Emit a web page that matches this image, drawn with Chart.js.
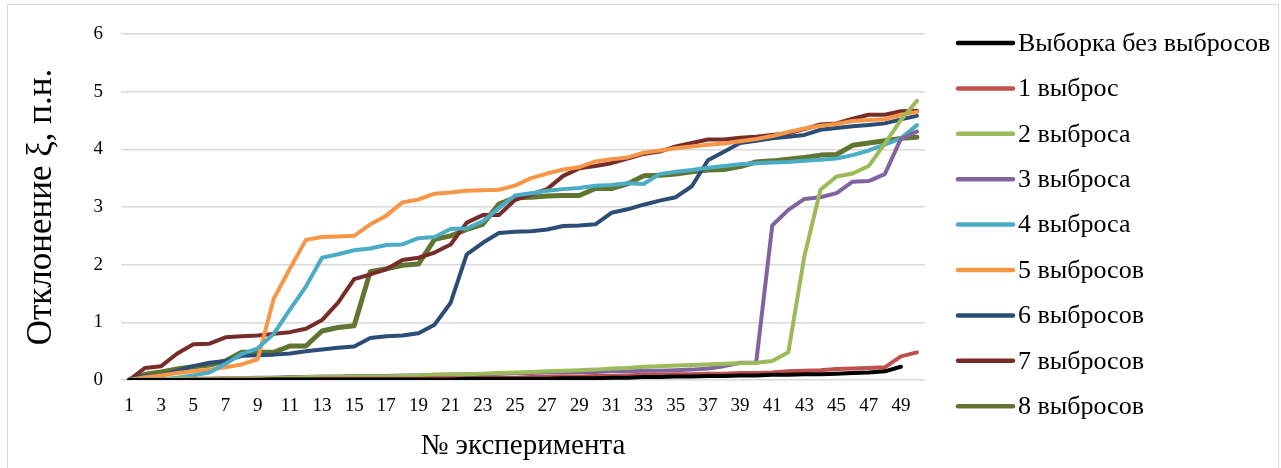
<!DOCTYPE html>
<html lang="ru">
<head>
<meta charset="utf-8">
<title>Отклонение ξ по экспериментам</title>
<script src="https://cdn.jsdelivr.net/npm/chart.js@4.4.1/dist/chart.umd.min.js"></script>
<style>
  html, body { margin: 0; padding: 0; background: #ffffff; }
  #wrap { position: relative; width: 1281px; height: 468px; }
  canvas { display: block; }
</style>
</head>
<body>
<div id="wrap"><canvas id="chart" width="1281" height="468"></canvas></div>
<script>
// Experiment numbers (x categories)
const experiments = [
  1, 2, 3, 4, 5, 6, 7, 8, 9, 10,
  11, 12, 13, 14, 15, 16, 17, 18, 19, 20,
  21, 22, 23, 24, 25, 26, 27, 28, 29, 30,
  31, 32, 33, 34, 35, 36, 37, 38, 39, 40,
  41, 42, 43, 44, 45, 46, 47, 48, 49, 50
];

// Deviation ξ for each sample (sorted ascending per series)
const noOutliers = [
  0, 0, 0, 0, 0, 0, 0, 0, 0, 0.01,
  0.01, 0.01, 0.01, 0.01, 0.01, 0.01, 0.01, 0.01, 0.01, 0.01,
  0.01, 0.02, 0.02, 0.02, 0.02, 0.02, 0.02, 0.03, 0.03, 0.03,
  0.04, 0.04, 0.05, 0.05, 0.06, 0.06, 0.07, 0.07, 0.08, 0.08,
  0.09, 0.09, 0.10, 0.10, 0.11, 0.12, 0.13, 0.15, 0.23, null
];
const outliers1 = [
  0, 0, 0, 0, 0.01, 0.01, 0.01, 0.01, 0.01, 0.01,
  0.01, 0.01, 0.02, 0.02, 0.02, 0.02, 0.02, 0.02, 0.02, 0.03,
  0.03, 0.03, 0.04, 0.04, 0.04, 0.05, 0.05, 0.06, 0.06, 0.07,
  0.07, 0.08, 0.09, 0.09, 0.10, 0.10, 0.11, 0.11, 0.12, 0.12,
  0.13, 0.15, 0.16, 0.17, 0.19, 0.20, 0.21, 0.22, 0.41, 0.48
];
const outliers2 = [
  0, 0.01, 0.01, 0.02, 0.02, 0.02, 0.03, 0.03, 0.03, 0.04,
  0.04, 0.05, 0.05, 0.05, 0.06, 0.06, 0.06, 0.07, 0.08, 0.09,
  0.10, 0.10, 0.11, 0.12, 0.13, 0.14, 0.15, 0.16, 0.17, 0.18,
  0.20, 0.21, 0.23, 0.24, 0.25, 0.26, 0.27, 0.28, 0.29, 0.30,
  0.33, 0.48, 2.15, 3.30, 3.53, 3.58, 3.71, 4.10, 4.51, 4.84
];
const outliers3 = [
  0, 0.01, 0.01, 0.01, 0.02, 0.02, 0.03, 0.03, 0.04, 0.04,
  0.05, 0.05, 0.06, 0.06, 0.07, 0.07, 0.07, 0.08, 0.08, 0.09,
  0.09, 0.10, 0.10, 0.11, 0.12, 0.12, 0.13, 0.13, 0.14, 0.14,
  0.15, 0.15, 0.16, 0.16, 0.17, 0.18, 0.20, 0.24, 0.30, 0.30,
  2.68, 2.95, 3.14, 3.17, 3.24, 3.44, 3.45, 3.57, 4.18, 4.31
];
const outliers4 = [
  0, 0, 0.01, 0.04, 0.08, 0.13, 0.28, 0.45, 0.55, 0.80,
  1.22, 1.62, 2.12, 2.18, 2.25, 2.28, 2.34, 2.35, 2.46, 2.48,
  2.62, 2.63, 2.75, 2.98, 3.20, 3.24, 3.28, 3.31, 3.33, 3.37,
  3.38, 3.41, 3.40, 3.57, 3.61, 3.64, 3.68, 3.71, 3.74, 3.76,
  3.77, 3.78, 3.80, 3.82, 3.84, 3.90, 3.98, 4.08, 4.19, 4.42
];
const outliers5 = [
  0, 0.05, 0.08, 0.12, 0.15, 0.18, 0.22, 0.27, 0.36, 1.41,
  1.93, 2.43, 2.48, 2.49, 2.50, 2.70, 2.85, 3.08, 3.13, 3.23,
  3.25, 3.28, 3.29, 3.30, 3.37, 3.50, 3.58, 3.65, 3.69, 3.79,
  3.83, 3.86, 3.94, 3.98, 4.02, 4.05, 4.08, 4.10, 4.14, 4.18,
  4.23, 4.30, 4.36, 4.41, 4.44, 4.49, 4.51, 4.52, 4.60, 4.65
];
const outliers6 = [
  0, 0.07, 0.08, 0.16, 0.24, 0.30, 0.33, 0.42, 0.43, 0.44,
  0.46, 0.50, 0.53, 0.56, 0.58, 0.73, 0.76, 0.77, 0.81, 0.96,
  1.34, 2.18, 2.38, 2.55, 2.57, 2.58, 2.61, 2.67, 2.68, 2.70,
  2.90, 2.96, 3.04, 3.11, 3.17, 3.36, 3.81, 3.96, 4.11, 4.15,
  4.19, 4.22, 4.25, 4.34, 4.37, 4.40, 4.42, 4.45, 4.52, 4.58
];
const outliers7 = [
  0, 0.21, 0.24, 0.46, 0.62, 0.63, 0.74, 0.76, 0.77, 0.80,
  0.83, 0.89, 1.04, 1.34, 1.75, 1.83, 1.92, 2.08, 2.12, 2.21,
  2.35, 2.73, 2.86, 2.86, 3.12, 3.22, 3.31, 3.54, 3.67, 3.71,
  3.76, 3.84, 3.92, 3.96, 4.05, 4.11, 4.17, 4.17, 4.20, 4.22,
  4.25, 4.28, 4.35, 4.43, 4.45, 4.53, 4.60, 4.60, 4.66, 4.67
];
const outliers8 = [
  0, 0.10, 0.14, 0.19, 0.23, 0.26, 0.33, 0.48, 0.48, 0.48,
  0.59, 0.59, 0.85, 0.91, 0.94, 1.88, 1.93, 1.99, 2.01, 2.44,
  2.50, 2.61, 2.70, 3.05, 3.16, 3.17, 3.19, 3.20, 3.20, 3.32,
  3.32, 3.40, 3.54, 3.55, 3.57, 3.61, 3.64, 3.65, 3.70, 3.78,
  3.80, 3.83, 3.86, 3.90, 3.91, 4.07, 4.11, 4.15, 4.19, 4.21
];

const seriesNames = [
  'Выборка без выбросов', '1 выброс', '2 выброса', '3 выброса', '4 выброса',
  '5 выбросов', '6 выбросов', '7 выбросов', '8 выбросов'
];
const seriesValues = [
  noOutliers, outliers1, outliers2, outliers3, outliers4,
  outliers5, outliers6, outliers7, outliers8
];
const seriesColors = [
  '#000000', '#C0504D', '#9BBB59', '#8064A2', '#4BACC6',
  '#F79646', '#2C4D75', '#772C2A', '#5F7530'
];
const seriesWidths = [4, 4, 4, 4, 4, 4, 4, 4, 5];

const yTicks = [0, 1, 2, 3, 4, 5, 6];

const SERIF = '"Liberation Serif", "Times New Roman", serif';

const datasets = seriesNames.map((name, i) => ({
  label: name,
  data: seriesValues[i],
  borderColor: seriesColors[i],
  backgroundColor: seriesColors[i],
  borderWidth: seriesWidths[i],
  borderCapStyle: 'round',
  borderJoinStyle: 'round',
  tension: 0,
  pointRadius: 0,
  pointHoverRadius: 0,
  fill: false,
  spanGaps: false
}));

// Legend drawn at the right of the plot: a line sample followed by the series name
const sideLegend = {
  id: 'sideLegend',
  afterDraw(chart) {
    const ctx = chart.ctx;
    const x0 = 958, x1 = 1013, textX = 1018, top = 43, step = 45.4;
    ctx.save();
    chart.data.datasets.forEach((ds, i) => {
      const y = top + i * step;
      ctx.beginPath();
      ctx.lineCap = 'round';
      ctx.lineWidth = 4.5;
      ctx.strokeStyle = ds.borderColor;
      ctx.moveTo(x0, y);
      ctx.lineTo(x1, y);
      ctx.stroke();
      ctx.fillStyle = '#000000';
      ctx.font = '26px ' + SERIF;
      ctx.textBaseline = 'middle';
      ctx.textAlign = 'left';
      ctx.fillText(ds.label, textX, y + 1);
    });
    ctx.restore();
  }
};

// Thin frame around the chart area
const frame = {
  id: 'frame',
  beforeDraw(chart) {
    const ctx = chart.ctx;
    ctx.save();
    ctx.fillStyle = '#ffffff';
    ctx.fillRect(0, 0, chart.width, chart.height);
    ctx.strokeStyle = '#d9d9d9';
    ctx.lineWidth = 1;
    ctx.strokeRect(7.5, 4.5, 1271, 480);
    ctx.restore();
  }
};

new Chart(document.getElementById('chart'), {
  type: 'line',
  data: { labels: experiments, datasets },
  plugins: [frame, sideLegend],
  options: {
    responsive: false,
    animation: false,
    devicePixelRatio: 1,
    layout: { padding: { left: 0, right: 356, top: 34, bottom: 0 } },
    plugins: {
      legend: { display: false },
      tooltip: { enabled: false }
    },
    scales: {
      x: {
        type: 'category',
        offset: true,
        grid: { display: false, drawTicks: false },
        border: { display: false },
        afterFit(scale) { scale.height = 88; },
        ticks: {
          autoSkip: false,
          maxRotation: 0,
          minRotation: 0,
          padding: 15,
          color: '#000000',
          font: { family: SERIF, size: 19 },
          callback(value, index) {
            const n = experiments[index];
            return n % 2 === 1 ? String(n) : '';
          }
        },
        title: {
          display: true,
          text: '№ эксперимента',
          color: '#000000',
          font: { family: SERIF, size: 29 },
          padding: { top: 0, bottom: 4 }
        }
      },
      y: {
        min: yTicks[0],
        max: yTicks[yTicks.length - 1],
        afterFit(scale) {
          scale.width = 121;
          scale.paddingTop = 12;
          scale.paddingBottom = 12;
        },
        afterBuildTicks(scale) { scale.ticks = yTicks.map(v => ({ value: v })); },
        grid: { color: '#d9d9d9', lineWidth: 1.5, drawTicks: false },
        border: { display: false },
        ticks: {
          padding: 18,
          color: '#000000',
          font: { family: SERIF, size: 19 }
        },
        title: {
          display: true,
          text: 'Отклонение ξ, п.н.',
          color: '#000000',
          font: { family: SERIF, size: 35 },
          padding: { top: 21, bottom: 0 }
        }
      }
    }
  }
});
</script>
</body>
</html>
